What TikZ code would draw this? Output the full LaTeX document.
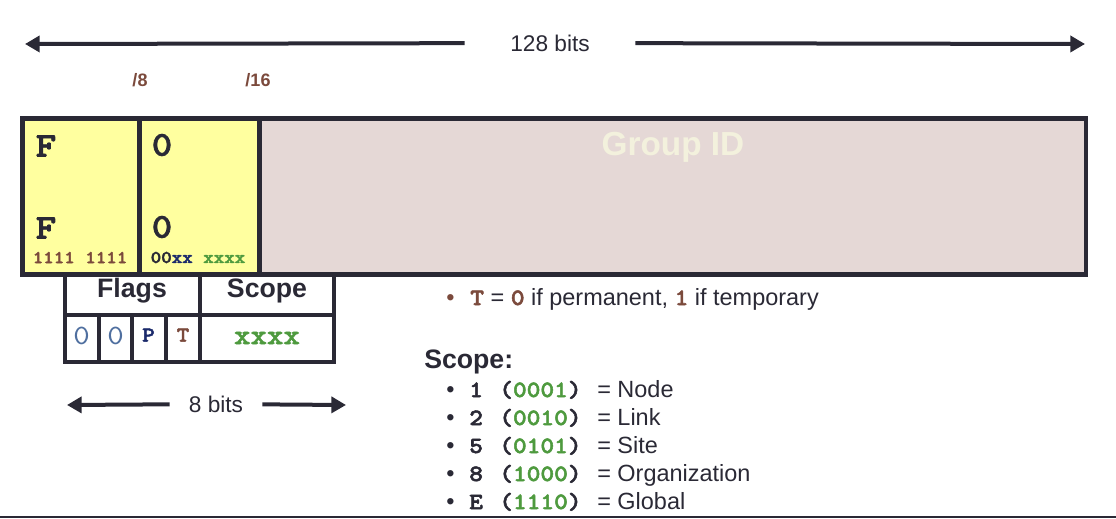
\documentclass[tikz,border=0pt]{standalone}
\usepackage{fontspec}
\setmainfont{Liberation Sans}
\newfontfamily\cour[FakeStretch=1.12]{lmmono10-regular.otf}
\newfontfamily\courbf[FakeStretch=1.12, FakeBold=2.2]{lmmonolt10-bold.otf}
\usetikzlibrary{arrows.meta}
\definecolor{ink}{HTML}{2A2935}
\definecolor{lemon}{HTML}{FFFF9F}
\definecolor{rose}{HTML}{E5D8D6}
\definecolor{pale}{HTML}{F3F1DD}
\definecolor{rust}{HTML}{7B4A3C}
\definecolor{leaf}{HTML}{4E9A3E}
\definecolor{navy}{HTML}{1B2A6B}
\definecolor{steel}{HTML}{4F6F9F}

\begin{document}
\begin{tikzpicture}[x=0.75pt, y=-0.75pt,
        every node/.style={inner sep=0pt, text=ink},
        box/.style={draw=ink, line width=3.4pt},
        grid/.style={draw=ink, line width=3pt},
        dim/.style={draw=ink, line width=3pt, -{Triangle[length=11pt,width=12pt]}},
        gap/.style={fill=white, minimum height=20pt, font=\fontsize{17}{20}\selectfont},
        hexd/.style={font=\courbf\fontsize{26}{26}\selectfont},
        bits/.style={font=\courbf\fontsize{13.4}{14}\selectfont},
        head/.style={anchor=base, font=\bfseries\fontsize{20}{22}\selectfont},
        code/.style={anchor=base west, font=\courbf\fontsize{17.5}{18}\selectfont},
        txt/.style={anchor=base west, font=\fontsize{17.6}{20}\selectfont}]

    \useasboundingbox (0, 0) rectangle (1116, 518);

    % length of the address
    \coordinate (tl) at (25, 44);
    \coordinate (tr) at (1085, 44);
    \node[gap, minimum width=127.5pt] at (550, 43) (wide) {128 bits};
    \draw[dim] (wide) -- (tl);
    \draw[dim] (wide) -- (tr);

    \node[font=\bfseries\fontsize{13.5}{14}\selectfont, text=rust] at (140, 80) (p8) {/8};
    \node[font=\bfseries\fontsize{13.5}{14}\selectfont, text=rust] at (258, 80) (p16) {/16};

    % flags and scope byte
    \draw[grid] (65, 270) rectangle (334, 361.5);
    \draw[grid] (65, 314.5) -- (334, 314.5);
    \draw[grid] (200, 270) -- (200, 361.5);
    \foreach \x in {99, 132, 165.5}
        \draw[grid] (\x, 314.5) -- (\x, 361.5);

    % address fields
    \filldraw[box, fill=lemon] (22.5, 118.5) rectangle (259.5, 274.5);
    \filldraw[box, fill=rose] (259.5, 118.5) rectangle (1086, 274.5);
    \draw[box] (139.5, 118.5) -- (139.5, 274.5);

    \node[hexd] at (46, 146) (f1) {F};
    \node[hexd] at (46, 228) (f2) {F};
    \node[hexd] at (162, 145) (z1) {0};
    \node[hexd] at (162, 227) (z2) {0};
    \node[bits, text=rust] at (80, 257.5) (ff) {1111 1111};
    \node[bits] at (198, 257.5) (zz) {00{\color{navy}xx} {\color{leaf}xxxx}};
    \node[anchor=base, font=\bfseries\fontsize{25}{26}\selectfont, text=pale] at (673, 155) (gid) {Group ID};

    \node[head] at (132, 297) (flags) {Flags};
    \node[head] at (267, 297) (scope) {Scope};
    \node[font=\cour\fontsize{21}{21}\selectfont, text=steel] at (81.5, 336) (b0) {0};
    \node[font=\cour\fontsize{21}{21}\selectfont, text=steel] at (115.5, 336) (b1) {0};
    \node[font=\courbf\fontsize{16}{16}\selectfont, text=navy] at (148.5, 335) (bp) {P};
    \node[font=\courbf\fontsize{16}{16}\selectfont, text=rust] at (183, 335) (bt) {T};
    \node[font=\courbf\fontsize{21}{21}\selectfont, text=leaf] at (267, 338) (bx) {xxxx};

    \coordinate (sl) at (67, 405);
    \coordinate (sr) at (346, 405);
    \node[gap, minimum width=69pt] at (216, 404) (byte) {8 bits};
    \draw[dim] (byte) -- (sl);
    \draw[dim] (byte) -- (sr);

    % notes
    \node[txt, text=rust] at (446, 305) (tdot) {\textbullet};
    \node[txt] at (470, 305) (tnote) {{\courbf\color{rust}T} = {\courbf\color{rust}0} if permanent, {\courbf\color{rust}1} if temporary};
    \node[anchor=base west, font=\bfseries\fontsize{20}{22}\selectfont] at (424, 368) (shead) {Scope:};
    \foreach \d/\b/\w [count=\i] in {1/0001/Node, 2/0010/Link, 5/0101/Site, 8/1000/Organization, E/1110/Global} {
        \node[txt] at (446, 369 + 28*\i) (dot\i) {\textbullet};
        \node[code] at (469, 369 + 28*\i) (dig\i) {\d};
        \node[code] at (499, 369 + 28*\i) (bin\i) {(\textcolor{leaf}{\b})};
        \node[txt] at (597, 369 + 28*\i) (mean\i) {= \w};
    }

    \draw[ink, line width=1.5pt] (0, 517) -- (1116, 517);
\end{tikzpicture}
\end{document}
